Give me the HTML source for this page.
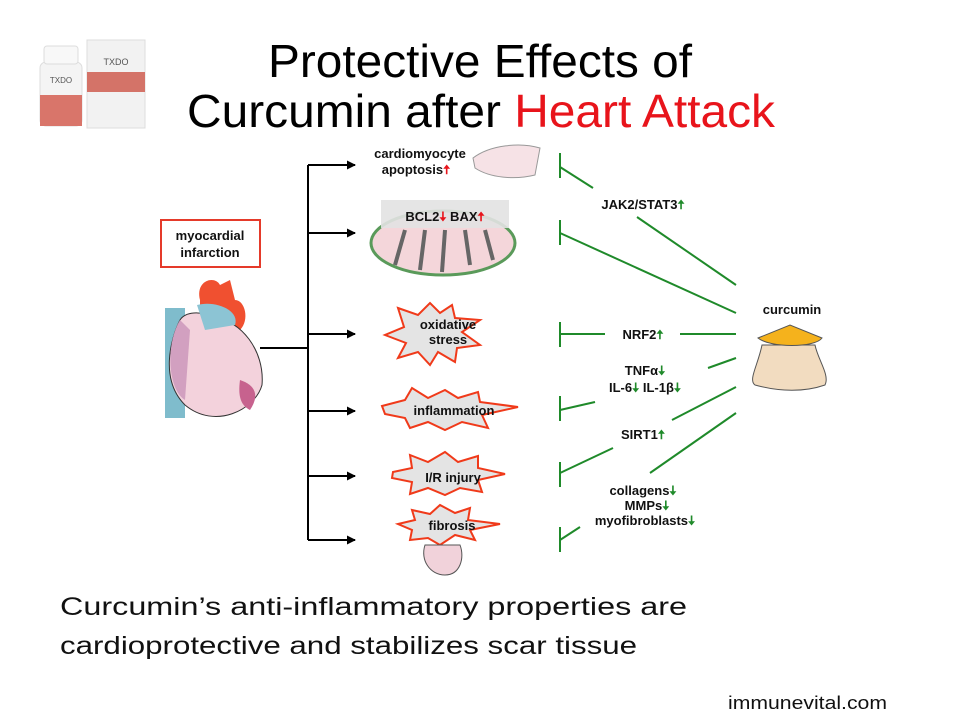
<!DOCTYPE html>
<html><head><meta charset="utf-8"><style>
html,body{margin:0;padding:0;background:#fff;}
svg{display:block;}
text{font-family:"Liberation Sans",sans-serif;}
.b{font-weight:bold;font-size:13px;fill:#111;}
</style></head><body>
<svg width="960" height="720" viewBox="0 0 960 720" xmlns="http://www.w3.org/2000/svg">
<defs>
<marker id="ar" markerWidth="9" markerHeight="9" refX="8" refY="4.5" orient="auto" markerUnits="userSpaceOnUse"><path d="M0,0 L9,4.5 L0,9 z" fill="#000"/></marker>
</defs>
<!-- product -->
<rect x="40" y="62" width="42" height="64" rx="6" fill="#f4f4f4" stroke="#ddd"/>
<rect x="44" y="46" width="34" height="18" rx="3" fill="#f8f8f8" stroke="#ddd"/>
<rect x="40" y="95" width="42" height="31" fill="#d9756a"/>
<text x="61" y="83" font-size="8" text-anchor="middle" fill="#555">TXDO</text>
<rect x="87" y="40" width="58" height="88" fill="#f2f2f2" stroke="#ddd"/>
<rect x="87" y="72" width="58" height="20" fill="#d47368"/>
<text x="116" y="65" font-size="9" text-anchor="middle" fill="#555">TXDO</text>
<!-- title -->
<text x="480" y="77" font-size="46" text-anchor="middle" fill="#000" textLength="424" lengthAdjust="spacingAndGlyphs">Protective Effects of</text>
<text x="481" y="127" font-size="46" text-anchor="middle" fill="#000" textLength="588" lengthAdjust="spacingAndGlyphs">Curcumin after <tspan fill="#e8141b">Heart Attack</tspan></text>
<!-- MI box -->
<rect x="161" y="220" width="99" height="47" fill="#fff" stroke="#e53a2a" stroke-width="2"/>
<text x="210" y="240" class="b" text-anchor="middle">myocardial</text>
<text x="210" y="257" class="b" text-anchor="middle">infarction</text>
<!-- heart -->
<rect x="165" y="308" width="20" height="110" fill="#7fbccc"/>
<path d="M200,300 C195,280 215,275 220,285 L230,280 L235,300 C245,300 250,320 240,330 L200,330 Z" fill="#f05030"/>
<path d="M180,320 C170,340 160,380 185,405 C215,430 255,410 262,385 C265,350 240,320 215,318 C200,310 185,312 180,320Z" fill="#f3d2dc" stroke="#333" stroke-width="1"/>
<path d="M197,305 C215,300 240,310 235,325 L205,330 Z" fill="#8cc4d4"/>
<path d="M240,380 C255,385 260,395 250,410 C240,405 238,395 240,380Z" fill="#c7628e"/>
<path d="M180,320 C165,345 168,390 185,400 L190,330Z" fill="#d2a0c0"/>
<!-- tree -->
<g stroke="#000" stroke-width="2" fill="none">
<line x1="260" y1="348" x2="308" y2="348"/>
<line x1="308" y1="165" x2="308" y2="540"/>
<line x1="308" y1="165" x2="355" y2="165" marker-end="url(#ar)"/>
<line x1="308" y1="233" x2="355" y2="233" marker-end="url(#ar)"/>
<line x1="308" y1="334" x2="355" y2="334" marker-end="url(#ar)"/>
<line x1="308" y1="411" x2="355" y2="411" marker-end="url(#ar)"/>
<line x1="308" y1="476" x2="355" y2="476" marker-end="url(#ar)"/>
<line x1="308" y1="540" x2="355" y2="540" marker-end="url(#ar)"/>
</g>
<!-- apoptosis -->
<text x="420" y="158" class="b" text-anchor="middle" font-size="12">cardiomyocyte</text>
<text x="416" y="174" class="b" text-anchor="middle" font-size="12">apoptosis<tspan fill="#e8141b">🠅</tspan></text>
<path d="M473,158 C490,145 520,142 540,148 L535,175 C515,180 490,178 475,168Z" fill="#f6e2e6" stroke="#999"/>
<!-- mitochondrion -->
<ellipse cx="443" cy="243" rx="72" ry="32" fill="#f4d6da" stroke="#5a9a5a" stroke-width="3"/>
<g stroke="#666" stroke-width="4"><line x1="405" y1="230" x2="395" y2="265"/><line x1="425" y1="230" x2="420" y2="270"/><line x1="445" y1="230" x2="442" y2="272"/><line x1="465" y1="230" x2="470" y2="265"/><line x1="485" y1="230" x2="493" y2="260"/></g>
<rect x="381" y="200" width="128" height="28" fill="#e2e2e2" opacity="0.9"/>
<text x="445" y="221" class="b" text-anchor="middle" font-size="15">BCL2<tspan fill="#e8141b">🠇</tspan> BAX<tspan fill="#e8141b">🠅</tspan></text>
<!-- starbursts -->
<g fill="#e4e4e4" stroke="#f03a1a" stroke-width="2">
<polygon points="398,308 418,315 430,303 440,313 452,305 455,318 480,320 462,332 480,345 457,348 455,362 438,352 430,365 418,352 398,358 406,343 385,335 404,327"/>
<polygon points="382,406 405,400 412,388 428,398 445,390 458,398 478,392 480,402 518,407 482,415 488,428 462,422 445,430 428,422 410,428 405,418 385,414"/>
<polygon points="393,472 412,468 410,455 428,462 445,452 458,462 478,456 478,468 505,474 478,480 482,492 460,488 445,495 428,488 410,494 412,482 392,478"/>
<polygon points="398,524 415,520 412,510 430,514 440,505 455,513 470,508 468,520 500,524 470,530 475,540 455,535 440,545 428,538 410,540 412,530"/>
</g>
<text x="448" y="329" class="b" text-anchor="middle" font-size="11">oxidative</text>
<text x="448" y="344" class="b" text-anchor="middle" font-size="11">stress</text>
<text x="454" y="415" class="b" text-anchor="middle" font-size="11">inflammation</text>
<text x="453" y="482" class="b" text-anchor="middle" font-size="11">I/R injury</text>
<path d="M425,545 C420,560 430,575 445,575 C460,575 465,558 460,545Z" fill="#f1d2da" stroke="#555"/>
<text x="452" y="530" class="b" text-anchor="middle" font-size="11">fibrosis</text>
<!-- inhibitors -->
<g stroke="#1f8a2a" stroke-width="2" fill="none">
<line x1="560" y1="153" x2="560" y2="178"/><line x1="560" y1="167" x2="593" y2="188"/>
<line x1="560" y1="220" x2="560" y2="245"/><line x1="560" y1="233" x2="736" y2="313"/>
<line x1="637" y1="217" x2="736" y2="285"/>
<line x1="560" y1="322" x2="560" y2="347"/><line x1="560" y1="334" x2="605" y2="334"/><line x1="680" y1="334" x2="736" y2="334"/>
<line x1="708" y1="368" x2="736" y2="358"/>
<line x1="560" y1="396" x2="560" y2="421"/><line x1="560" y1="410" x2="595" y2="402"/>
<line x1="672" y1="420" x2="736" y2="387"/>
<line x1="560" y1="462" x2="560" y2="487"/><line x1="560" y1="473" x2="613" y2="448"/>
<line x1="650" y1="473" x2="736" y2="413"/>
<line x1="560" y1="527" x2="560" y2="552"/><line x1="560" y1="540" x2="580" y2="527"/>
</g>
<g text-anchor="middle">
<text x="643" y="209" class="b">JAK2/STAT3<tspan fill="#1f8a2a">🠅</tspan></text>
<text x="643" y="339" class="b">NRF2<tspan fill="#1f8a2a">🠅</tspan></text>
<text x="645" y="375" class="b">TNFα<tspan fill="#1f8a2a">🠇</tspan></text>
<text x="645" y="392" class="b">IL-6<tspan fill="#1f8a2a">🠇</tspan> IL-1β<tspan fill="#1f8a2a">🠇</tspan></text>
<text x="643" y="439" class="b">SIRT1<tspan fill="#1f8a2a">🠅</tspan></text>
<text x="643" y="495" class="b">collagens<tspan fill="#1f8a2a">🠇</tspan></text>
<text x="647" y="510" class="b">MMPs<tspan fill="#1f8a2a">🠇</tspan></text>
<text x="645" y="525" class="b">myofibroblasts<tspan fill="#1f8a2a">🠇</tspan></text>
</g>
<text x="792" y="314" class="b" text-anchor="middle" font-size="14">curcumin</text>
<!-- sack -->
<path d="M762,345 C758,365 748,380 755,385 C780,392 805,392 825,385 C830,375 818,360 815,345 Z" fill="#f2dcc0" stroke="#555"/>
<path d="M758,338 L790,325 L822,338 C815,348 770,348 758,338Z" fill="#f5b21c" stroke="#555"/>
<!-- bottom text -->
<text x="60" y="615" font-size="25" fill="#111" textLength="627" lengthAdjust="spacingAndGlyphs">Curcumin’s anti-inflammatory properties are</text>
<text x="60" y="654" font-size="25" fill="#111" textLength="577" lengthAdjust="spacingAndGlyphs">cardioprotective and stabilizes scar tissue</text>
<text x="728" y="709" font-size="18" fill="#111" textLength="159" lengthAdjust="spacingAndGlyphs">immunevital.com</text>
</svg>
</body></html>
